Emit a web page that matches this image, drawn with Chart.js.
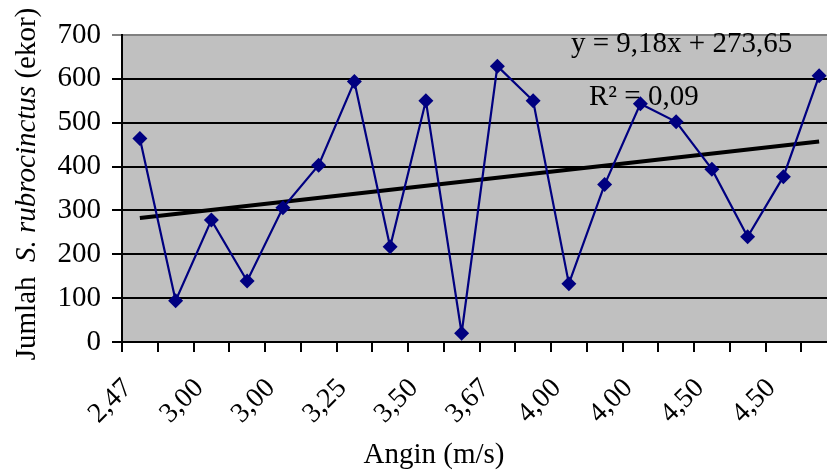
<!DOCTYPE html>
<html>
<head>
<meta charset="utf-8">
<script src="https://cdn.jsdelivr.net/npm/chart.js@4"></script>
<style>
  html, body { margin: 0; padding: 0; background: #fff; overflow: hidden; }
  #wrap { width: 850px; height: 472px; position: relative; }
</style>
</head>
<body>
<div id="wrap"><canvas id="chart"></canvas></div>
<script>
// Data
const angin = ['2,47', '', '3,00', '', '3,00', '', '3,25', '', '3,50', '',
               '3,67', '', '4,00', '', '4,00', '', '4,50', '', '4,50', ''];
const jumlah = [464, 94, 278, 139, 306, 403, 594, 217, 550, 20,
                629, 550, 133, 359, 543, 502, 394, 240, 377, 607];
// garis tren y = 9,18x + 273,65 (titik awal dan akhir)
const trend = [282.8, null, null, null, null, null, null, null, null, null,
               null, null, null, null, null, null, null, null, null, 457.3];
const yTicks = [0, 100, 200, 300, 400, 500, 600, 700];
const eqText = 'y = 9,18x + 273,65';
const r2Text = 'R² = 0,09';
const xTitle = 'Angin (m/s)';

const FONT = "'Liberation Serif', 'Times New Roman', serif";

// Judul sumbu Y dengan bagian miring, dan judul sumbu X
const titlePlugin = {
    id: 'axisTitles',
    afterDraw(chart) {
        const ctx = chart.ctx;
        const parts = [
            { t: 'Jumlah  ', it: false },
            { t: 'S. rubrocinctus', it: true },
            { t: ' (ekor)', it: false }
        ];
        ctx.save();
        ctx.translate(35, 184);
        ctx.rotate(-Math.PI / 2);
        ctx.fillStyle = '#000';
        ctx.textBaseline = 'alphabetic';
        let total = 0;
        parts.forEach(p => {
            ctx.font = (p.it ? 'italic ' : '') + '29px ' + FONT;
            p.w = ctx.measureText(p.t).width;
            total += p.w;
        });
        let x = -total / 2;
        parts.forEach(p => {
            ctx.font = (p.it ? 'italic ' : '') + '29px ' + FONT;
            ctx.fillText(p.t, x, 0);
            x += p.w;
        });
        ctx.restore();

        ctx.save();
        ctx.fillStyle = '#000';
        ctx.font = '29px ' + FONT;
        ctx.textAlign = 'center';
        ctx.fillText(xTitle, 434, 463);
        ctx.restore();
    }
};

// Persamaan garis tren
const eqPlugin = {
    id: 'eqLabel',
    beforeDatasetsDraw(chart) {
        const ctx = chart.ctx;
        ctx.save();
        ctx.fillStyle = '#000';
        ctx.font = '29px ' + FONT;
        ctx.textBaseline = 'alphabetic';
        ctx.fillText(eqText, 571, 52);
        ctx.fillText(r2Text, 589, 105);
        ctx.restore();
    }
};

const ctx = document.getElementById('chart').getContext('2d');
const chart = new Chart(ctx, {
    type: 'line',
    data: {
        labels: angin,
        datasets: [{
            label: 'Jumlah',
            data: jumlah,
            borderColor: '#000080',
            backgroundColor: '#000080',
            borderWidth: 2.2,
            pointStyle: 'rectRot',
            pointRadius: 7.5,
            pointBorderWidth: 0,
            tension: 0,
            order: 1
        }, {
            label: 'Tren',
            data: trend,
            borderColor: '#000',
            borderWidth: 4,
            pointRadius: 0,
            spanGaps: true,
            order: 2
        }]
    },
    options: {
        responsive: true,
        maintainAspectRatio: false,
        animation: false,
        layout: { padding: { top: 35, right: 13, left: 0, bottom: 0 } },
        plugins: {
            legend: { display: false },
            tooltip: { enabled: false }
        },
        scales: {
            x: {
                offset: true,
                afterFit(scale) {
                    scale.height = 130;
                    scale.paddingLeft = 0;
                    scale.paddingRight = 0;
                },
                grid: {
                    offset: true,
                    drawOnChartArea: false,
                    drawTicks: true,
                    tickLength: 10,
                    color: '#000',
                    lineWidth: 2
                },
                border: { display: true, color: '#000', width: 2 },
                ticks: {
                    autoSkip: false,
                    minRotation: 45,
                    maxRotation: 45,
                    padding: 20,
                    labelOffset: -12,
                    color: '#000',
                    font: { family: FONT, size: 28 }
                }
            },
            y: {
                min: 0,
                max: 700,
                afterFit(scale) { scale.width = 122; },
                afterBuildTicks(scale) { scale.ticks = yTicks.map(v => ({ value: v })); },
                grid: {
                    color: c => (c.tick && c.tick.value === 700 ? '#808080' : '#000'),
                    lineWidth: 2,
                    tickLength: 10,
                    drawTicks: true
                },
                border: { display: true, color: '#000', width: 2 },
                ticks: {
                    padding: 11,
                    color: '#000',
                    font: { family: FONT, size: 29 }
                }
            }
        }
    },
    plugins: [{
        id: 'plotBg',
        beforeDraw(chart) {
            const a = chart.chartArea;
            const c = chart.ctx;
            c.save();
            c.fillStyle = '#c0c0c0';
            c.fillRect(a.left, a.top, a.right - a.left, a.bottom - a.top);
            c.restore();
        }
    }, titlePlugin, eqPlugin]
});
</script>
</body>
</html>
